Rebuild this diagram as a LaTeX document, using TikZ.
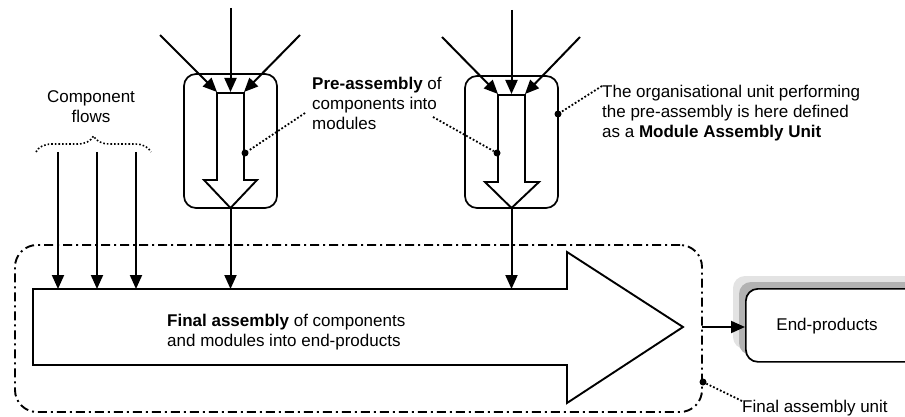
\documentclass[tikz,border=0pt]{standalone}
\usepackage{fontspec}
\setmainfont{Liberation Sans}
\usetikzlibrary{arrows.meta,decorations.pathreplacing}
\begin{document}
\begin{tikzpicture}[x=1pt,y=-1pt,
  flow/.style={line width=2pt,-{Triangle[length=14pt,width=12pt]}},
  unitbox/.style={draw,line width=1.7pt,rounded corners=12pt,inner sep=0pt},
  blockarrow/.style={draw,line width=1.9pt,fill=white},
  leader/.style={dotted,line width=1.8pt},
  dotmark/.style={circle,fill,inner sep=0pt,minimum size=7pt},
  txt/.style={inner sep=0pt,font=\fontsize{17}{20}\selectfont,align=left},
]
\useasboundingbox (0,0) rectangle (905,417);
\clip (0,0) rectangle (905,417);

% final assembly unit (dash-dotted)
\node (fau) [draw,line width=1.9pt,rounded corners=22pt,
  dash pattern=on 9pt off 4pt on 2pt off 4pt,inner sep=0pt,outer sep=0pt,
  minimum width=687pt,minimum height=167pt,anchor=north west] at (15,245) {};

% final assembly block arrow
\draw[blockarrow] (33,289) -- (567,289) -- (567,252) -- (683,327) -- (567,403) -- (567,365) -- (33,365) -- cycle;
\coordinate (fa1) at (58,289);
\coordinate (fa2) at (97,289);
\coordinate (fa3) at (136,289);
\coordinate (fam1) at (230.5,289);
\coordinate (fam2) at (511.5,289);

% module assembly units
\node (mb1) [unitbox,minimum width=93pt,minimum height=134pt] at (230.5,141) {};
\node (mb2) [unitbox,minimum width=93pt,minimum height=132pt] at (511.5,142) {};

% pre-assembly block arrows
\draw[blockarrow] (217,93) -- (244,93) -- (244,180) -- (257,180) -- (230.5,208) -- (204,180) -- (217,180) -- cycle;
\draw[blockarrow] (498,95) -- (525,95) -- (525,182) -- (539,182) -- (511.5,208) -- (485,182) -- (498,182) -- cycle;
\coordinate (t1l) at (217,92); \coordinate (t1c) at (230.5,92); \coordinate (t1r) at (244,92);
\coordinate (t2l) at (498,94); \coordinate (t2c) at (511.5,94); \coordinate (t2r) at (525,94);
\coordinate (b1) at (230.5,208); \coordinate (b2) at (511.5,208);

% incoming component arrows (module 1)
\coordinate (s1a) at (160,35); \coordinate (s1b) at (230.5,8); \coordinate (s1c) at (300,35);
\draw[flow] (s1a) -- (t1l);
\draw[flow] (s1b) -- (t1c);
\draw[flow] (s1c) -- (t1r);
% incoming component arrows (module 2)
\coordinate (s2a) at (442,37); \coordinate (s2b) at (511.5,10); \coordinate (s2c) at (580,37);
\draw[flow] (s2a) -- (t2l);
\draw[flow] (s2b) -- (t2c);
\draw[flow] (s2c) -- (t2r);

% modules into final assembly
\draw[flow] (b1) -- (fam1);
\draw[flow] (b2) -- (fam2);

% component flows
\coordinate (c1) at (58,152); \coordinate (c2) at (97,152); \coordinate (c3) at (136,152);
\draw[flow] (c1) -- (fa1);
\draw[flow] (c2) -- (fa2);
\draw[flow] (c3) -- (fa3);
\draw[decorate,decoration={brace,amplitude=16pt},dotted,line width=1.6pt] (36,152) -- (151,152);
\node (cf) [txt,align=center] at (91,107) {Component\\flows};

% pre-assembly label
\node (pa) [txt,anchor=west] at (312,103) {\textbf{Pre-assembly} of\\components into\\modules};
\node (p1) [dotmark] at (245,153) {};
\node (p2) [dotmark] at (497,153) {};
\coordinate (l1) at (305,113);
\coordinate (l2) at (433,117);
\draw[leader] (l1) -- (p1);
\draw[leader] (l2) -- (p2);

% module assembly unit label
\node (mau) [txt,anchor=west] at (602,113) {The organisational unit performing\\the pre-assembly is here defined\\as a \textbf{Module Assembly Unit}};
\node (p3) [dotmark] at (558,114) {};
\coordinate (l3) at (602,86);
\draw[leader] (l3) -- (p3);

% final assembly label
\node (fat) [txt,anchor=west] at (167,332) {\textbf{Final assembly} of components\\and modules into end-products};

% final assembly unit label
\node (faul) [txt,anchor=west] at (742,408) {Final assembly unit};
\node (p4) [dotmark] at (703,382) {};
\coordinate (l4) at (742,401);
\draw[leader] (l4) -- (p4);

% end-products
\fill[gray!22,rounded corners=12pt] (733,276) rectangle (925,349);
\fill[gray!60,rounded corners=12pt] (739,282) rectangle (925,355);
\node (ep) [draw,fill=white,line width=1.7pt,rounded corners=12pt,inner sep=0pt,
  minimum width=180pt,minimum height=73pt,anchor=north west] at (745,288) {};
\node (ept) [txt] at (827,326) {End-products};
\coordinate (epin) at (745,327);
\coordinate (faout) at (702,327);
\draw[flow] (faout) -- (epin);
\end{tikzpicture}
\end{document}
